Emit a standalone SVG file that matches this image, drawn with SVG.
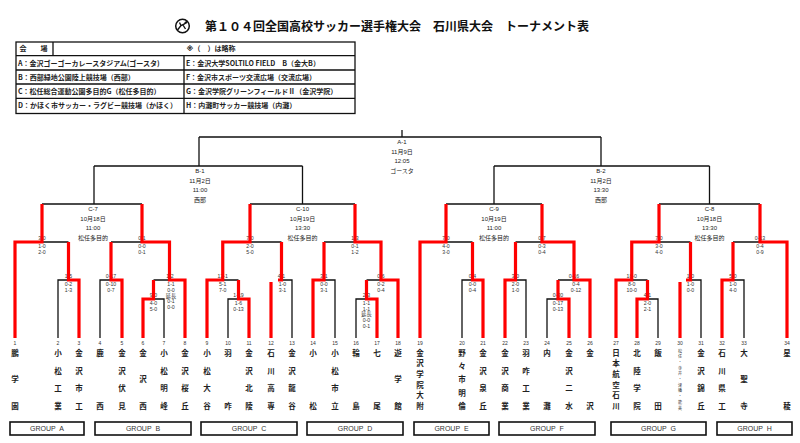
<svg xmlns="http://www.w3.org/2000/svg" width="800" height="443" viewBox="0 0 800 443">
<style>
text{font-family:"Liberation Sans","Noto Sans CJK JP",sans-serif;fill:#222}
.ttl{font-family:"Noto Sans CJK JP",sans-serif;font-size:12px;font-weight:bold;fill:#111}
.vn{font-family:"Noto Sans CJK JP",sans-serif;font-size:7px;font-weight:bold;fill:#222}
.lb{font-family:"Liberation Sans","Noto Sans CJK JP",sans-serif;font-size:6px;text-anchor:middle;fill:#222}
.sc{font-family:"Liberation Sans","Noto Sans CJK JP",sans-serif;font-size:5.2px;text-anchor:middle;fill:#333}
.no{font-family:"Liberation Sans",sans-serif;font-size:5px;text-anchor:middle;fill:#333}
.nm{font-family:"Noto Sans CJK JP",sans-serif;font-size:7.5px;font-weight:bold;text-anchor:middle;fill:#222}
.nm30{font-family:"Noto Sans CJK JP",sans-serif;font-size:4px;text-anchor:middle;fill:#333}
.gp{font-family:"Liberation Sans",sans-serif;font-size:7px;text-anchor:middle;fill:#333;word-spacing:2px}
.box{fill:#fff;stroke:#111;stroke-width:1.6}
.tb{fill:none;stroke:#111;stroke-width:1.3}
.k{fill:none;stroke:#111;stroke-width:1.3}
.r{fill:none;stroke:#f00;stroke-width:3.2;stroke-linejoin:miter}
</style>

<g id="title">
<circle cx="182.5" cy="26" r="6.8" fill="none" stroke="#111" stroke-width="1.5"/>
<path d="M177.5,30 L181,25.5 L184.5,24 L187.5,21 M181,25.5 L179.5,22.5 M183,25 L185.5,29" fill="none" stroke="#111" stroke-width="1.4"/>
<circle cx="185.8" cy="22.6" r="1.2" fill="#111"/>
<text class="ttl" x="205" y="31">第１０４回全国高校サッカー選手権大会　石川県大会　トーナメント表</text>
</g>

<g id="venue-table">
<rect class="tb" x="16" y="42" width="339" height="71.5" stroke-width="1.6"/>
<path class="tb" d="M16,55.7 H355 M16,70 H355 M16,84 H355 M16,98.3 H355 M53,42 V55.7 M184,55.7 V113.5"/>
<text class="vn" x="19.5" y="51.3">会　　場</text>
<text class="vn" x="211" y="51.3" text-anchor="middle"><tspan style="font-family:'DejaVu Sans','Noto Sans CJK JP',sans-serif" fill="#222">※</tspan>（　）は略称</text>
<text class="vn" x="18" y="65.5">A：金沢ゴーゴーカレースタジアム(ゴースタ)</text>
<text class="vn" x="186" y="65.5">E：金沢大学SOLTILO FIELD　B（金大B）</text>
<text class="vn" x="18" y="79.5">B：西部緑地公園陸上競技場（西部）</text>
<text class="vn" x="186" y="79.5">F：金沢市スポーツ交流広場（交流広場）</text>
<text class="vn" x="18" y="93.7">C：松任総合運動公園多目的G（松任多目的）</text>
<text class="vn" x="186" y="93.7">G：金沢学院グリーンフィールドⅡ（金沢学院）</text>
<text class="vn" x="18" y="108.3">D：かほく市サッカー・ラグビー競技場（かほく）</text>
<text class="vn" x="186" y="108.3">H：内灘町サッカー競技場（内灘）</text>
</g>

<g id="match-A1"><text class="lb" x="402" y="144">A-1</text><text class="lb" x="402" y="153.5">11月9日</text><text class="lb" x="402" y="163">12:05</text><text class="lb" x="402" y="173">ゴースタ</text></g>
<g id="match-B1"><text class="lb" x="200" y="173">B-1</text><text class="lb" x="200" y="182.5">11月2日</text><text class="lb" x="200" y="192">11:00</text><text class="lb" x="200" y="202">西部</text></g>
<g id="match-B2"><text class="lb" x="601" y="173">B-2</text><text class="lb" x="601" y="182.5">11月2日</text><text class="lb" x="601" y="192">13:30</text><text class="lb" x="601" y="202">西部</text></g>
<g id="match-C7"><text class="lb" x="93" y="210.5">C-7</text><text class="lb" x="93" y="220.5">10月18日</text><text class="lb" x="93" y="229.5">11:00</text><text class="lb" x="93" y="239.5">松任多目的</text></g>
<g id="match-C10"><text class="lb" x="302.5" y="210.5">C-10</text><text class="lb" x="302.5" y="220.5">10月19日</text><text class="lb" x="302.5" y="229.5">13:30</text><text class="lb" x="302.5" y="239.5">松任多目的</text></g>
<g id="match-C9"><text class="lb" x="494" y="210.5">C-9</text><text class="lb" x="494" y="220.5">10月19日</text><text class="lb" x="494" y="229.5">11:00</text><text class="lb" x="494" y="239.5">松任多目的</text></g>
<g id="match-C8"><text class="lb" x="709.5" y="210.5">C-8</text><text class="lb" x="709.5" y="220.5">10月18日</text><text class="lb" x="709.5" y="229.5">13:30</text><text class="lb" x="709.5" y="239.5">松任多目的</text></g>

<g id="scores">
<g id="m-1-23"><text class="sc" x="42" y="240">3-0</text><text class="sc" x="42" y="247.8">1-0</text><text class="sc" x="42" y="253.6">2-0</text></g>
<g id="m-2-3"><text class="sc" x="68.5" y="278">1-5</text><text class="sc" x="68.5" y="285.8">0-2</text><text class="sc" x="68.5" y="291.6">1-3</text></g>
<g id="m-45-678"><text class="sc" x="142" y="240">0-1</text><text class="sc" x="142" y="247.8">0-0</text><text class="sc" x="142" y="253.6">0-1</text></g>
<g id="m-4-5"><text class="sc" x="111" y="278">0-17</text><text class="sc" x="111" y="285.8">0-10</text><text class="sc" x="111" y="291.6">0-7</text></g>
<g id="m-67-8"><text class="sc" x="170" y="278">1-2</text><text class="sc" x="171" y="285.8">1-1</text><text class="sc" x="171" y="291.6">0-0</text><text class="sc" x="171" y="297.6">延長</text><text class="sc" x="171" y="303.4">0-1</text><text class="sc" x="171" y="309.2">0-0</text></g>
<g id="m-6-7"><text class="sc" x="153.5" y="297">9-0</text><text class="sc" x="153.5" y="304.8">4-0</text><text class="sc" x="153.5" y="310.6">5-0</text></g>

<g id="m-9-1011"><text class="sc" x="222.7" y="278">12-1</text><text class="sc" x="222.7" y="285.8">5-1</text><text class="sc" x="222.7" y="291.6">7-0</text></g>
<g id="m-10-11"><text class="sc" x="238.5" y="297">1-19</text><text class="sc" x="238.5" y="304.8">1-6</text><text class="sc" x="238.5" y="310.6">0-13</text></g>
<g id="m-12-13"><text class="sc" x="281.5" y="278">4-1</text><text class="sc" x="282.5" y="285.8">1-0</text><text class="sc" x="282.5" y="291.6">3-1</text></g>
<g id="m-9-13"><text class="sc" x="250" y="240">7-0</text><text class="sc" x="250" y="247.8">2-0</text><text class="sc" x="250" y="253.6">5-0</text></g>
<g id="m-14-15"><text class="sc" x="324" y="278">3-1</text><text class="sc" x="324" y="285.8">0-0</text><text class="sc" x="324" y="291.6">3-1</text></g>
<g id="m-16-17"><text class="sc" x="366.5" y="297">2-3</text><text class="sc" x="366.5" y="304.8">1-1</text><text class="sc" x="366.5" y="310.6">1-1</text><text class="sc" x="366.5" y="316.4">延長</text><text class="sc" x="366.5" y="322.2">0-0</text><text class="sc" x="366.5" y="328">0-1</text></g>
<g id="m-1617-18"><text class="sc" x="381" y="278">0-6</text><text class="sc" x="381" y="285.8">0-2</text><text class="sc" x="381" y="291.6">0-4</text></g>
<g id="m-14-18"><text class="sc" x="355" y="240">1-3</text><text class="sc" x="355" y="247.8">0-1</text><text class="sc" x="355" y="253.6">1-2</text></g>

<g id="m-19-2021"><text class="sc" x="446" y="240">7-0</text><text class="sc" x="446" y="247.8">4-0</text><text class="sc" x="446" y="253.6">3-0</text></g>
<g id="m-20-21"><text class="sc" x="472.5" y="278">0-4</text><text class="sc" x="472.5" y="285.8">0-0</text><text class="sc" x="472.5" y="291.6">0-4</text></g>
<g id="m-22-23"><text class="sc" x="515.5" y="278">3-0</text><text class="sc" x="515.5" y="285.8">2-0</text><text class="sc" x="515.5" y="291.6">1-0</text></g>
<g id="m-22-26"><text class="sc" x="542" y="240">0-7</text><text class="sc" x="542" y="247.8">0-3</text><text class="sc" x="542" y="253.6">0-4</text></g>
<g id="m-24-25"><text class="sc" x="558" y="297">0-30</text><text class="sc" x="558" y="304.8">0-17</text><text class="sc" x="558" y="310.6">0-13</text></g>
<g id="m-2425-26"><text class="sc" x="574" y="278">0-16</text><text class="sc" x="576" y="285.8">0-4</text><text class="sc" x="576" y="291.6">0-12</text></g>

<g id="m-27-2829"><text class="sc" x="631.7" y="278">18-0</text><text class="sc" x="631.7" y="285.8">8-0</text><text class="sc" x="631.7" y="291.6">10-0</text></g>
<g id="m-28-29"><text class="sc" x="647.5" y="297">4-1</text><text class="sc" x="647.5" y="304.8">2-0</text><text class="sc" x="647.5" y="310.6">2-1</text></g>
<g id="m-30-31"><text class="sc" x="690.5" y="278">1-0</text><text class="sc" x="690.5" y="285.8">1-0</text><text class="sc" x="690.5" y="291.6">0-0</text></g>
<g id="m-27-31"><text class="sc" x="659" y="240">7-0</text><text class="sc" x="659" y="247.8">3-0</text><text class="sc" x="659" y="253.6">4-0</text></g>
<g id="m-32-33"><text class="sc" x="733" y="278">5-0</text><text class="sc" x="733" y="285.8">1-0</text><text class="sc" x="733" y="291.6">4-0</text></g>
<g id="m-32-34"><text class="sc" x="760" y="240">0-13</text><text class="sc" x="760" y="247.8">0-4</text><text class="sc" x="760" y="253.6">0-9</text></g>
</g>

<g id="connectors">
<path class="k" d="M402,130 V137 M199,137 H601 M94,166 H302.5 M199,166 V137 M494,166 H709.5 M601,166 V137
M42,204 H142 M94,204 V166 M250,204 H355 M302.5,204 V166 M446,204 H542 M494,204 V166 M659,204 H760 M709.5,204 V166
M164,338 V299 H153.5 M153.5,280 H169.5 M58,338 V280 H68.5 M100,338 V280 H111 M42,242 H68.5 M111,242 H142
M228,338 V299 H238.5 M222.75,280 H238.5 M281.5,280 H292 V338 M250,242 H281.5 M324,280 H335 V338 M356,338 V299 H366.5 M366.5,280 H381 M324,242 H355
M462,338 V280 H472.5 M446,242 H472.5 M515.5,280 H526 V338 M547,338 V299 H558 M558,280 H574 M515.5,242 H542
M647.5,299 H658 V338 M631.75,280 H647.5 M690.5,280 H701 V338 M659,242 H690.5 M733,280 H744 V338 M733,242 H760"/>
<path class="r" d="M143,338 V299 H153.5 V280 M185,338 V280 H169.5 V242 H142 V204 M79,338 V280 H68.5 V242 M122,338 V280 H111 V242 M15,338 V242 H42 V204
M249,338 V299 H238.5 V280 M207,338 V280 H222.75 V242 H250 V204 M271,338 V282 M278,280 H281.5 V242 M313,338 V280 H324 V242 M377,338 V299 H366.5 V280 M398,338 V280 H381 V242 H355 V204
M483,338 V280 H472.5 V242 M420,338 V242 H446 V204 M505,338 V280 H515.5 V242 M569,338 V299 H558 V280 M590,338 V280 H574 V242 H542 V204
M637,338 V299 H647.5 V280 M616,338 V280 H631.75 V242 H659 V204 M680,338 V282 M686,280 H690.5 V242 M722,338 V280 H733 V242 M787,338 V242 H760 V204"/>
</g>

<g id="teams">
<g id="team-1"><text class="no" x="15" y="345">1</text><text class="nm"><tspan x="15" y="355.8">鵬</tspan><tspan x="15" y="382.3">学</tspan><tspan x="15" y="408.8">園</tspan></text></g>
<g id="team-2"><text class="no" x="58" y="345">2</text><text class="nm"><tspan x="58" y="355.8">小</tspan><tspan x="58" y="373.5">松</tspan><tspan x="58" y="391.1">工</tspan><tspan x="58" y="408.8">業</tspan></text></g>
<g id="team-3"><text class="no" x="79" y="345">3</text><text class="nm"><tspan x="79" y="355.8">金</tspan><tspan x="79" y="373.5">沢</tspan><tspan x="79" y="391.1">市</tspan><tspan x="79" y="408.8">工</tspan></text></g>
<g id="team-4"><text class="no" x="100" y="345">4</text><text class="nm"><tspan x="100" y="355.8">鹿</tspan><tspan x="100" y="408.8">西</tspan></text></g>
<g id="team-5"><text class="no" x="122" y="345">5</text><text class="nm"><tspan x="122" y="355.8">金</tspan><tspan x="122" y="373.5">沢</tspan><tspan x="122" y="391.1">伏</tspan><tspan x="122" y="408.8">見</tspan></text></g>
<g id="team-6"><text class="no" x="143" y="345">6</text><text class="nm"><tspan x="143" y="355.8">金</tspan><tspan x="143" y="382.3">沢</tspan><tspan x="143" y="408.8">西</tspan></text></g>
<g id="team-7"><text class="no" x="164" y="345">7</text><text class="nm"><tspan x="164" y="355.8">小</tspan><tspan x="164" y="373.5">松</tspan><tspan x="164" y="391.1">明</tspan><tspan x="164" y="408.8">峰</tspan></text></g>
<g id="team-8"><text class="no" x="185" y="345">8</text><text class="nm"><tspan x="185" y="355.8">金</tspan><tspan x="185" y="373.5">沢</tspan><tspan x="185" y="391.1">桜</tspan><tspan x="185" y="408.8">丘</tspan></text></g>
<g id="team-9"><text class="no" x="207" y="345">9</text><text class="nm"><tspan x="207" y="355.8">小</tspan><tspan x="207" y="373.5">松</tspan><tspan x="207" y="391.1">大</tspan><tspan x="207" y="408.8">谷</tspan></text></g>
<g id="team-10"><text class="no" x="228" y="345">10</text><text class="nm"><tspan x="228" y="355.8">羽</tspan><tspan x="228" y="408.8">咋</tspan></text></g>
<g id="team-11"><text class="no" x="249" y="345">11</text><text class="nm"><tspan x="249" y="355.8">金</tspan><tspan x="249" y="373.5">沢</tspan><tspan x="249" y="391.1">北</tspan><tspan x="249" y="408.8">陵</tspan></text></g>
<g id="team-12"><text class="no" x="271" y="345">12</text><text class="nm"><tspan x="271" y="355.8">石</tspan><tspan x="271" y="373.5">川</tspan><tspan x="271" y="391.1">高</tspan><tspan x="271" y="408.8">専</tspan></text></g>
<g id="team-13"><text class="no" x="292" y="345">13</text><text class="nm"><tspan x="292" y="355.8">金</tspan><tspan x="292" y="373.5">沢</tspan><tspan x="292" y="391.1">龍</tspan><tspan x="292" y="408.8">谷</tspan></text></g>
<g id="team-14"><text class="no" x="313" y="345">14</text><text class="nm"><tspan x="313" y="355.8">小</tspan><tspan x="313" y="408.8">松</tspan></text></g>
<g id="team-15"><text class="no" x="335" y="345">15</text><text class="nm"><tspan x="335" y="355.8">小</tspan><tspan x="335" y="373.5">松</tspan><tspan x="335" y="391.1">市</tspan><tspan x="335" y="408.8">立</tspan></text></g>
<g id="team-16"><text class="no" x="356" y="345">16</text><text class="nm"><tspan x="356" y="355.8">輪</tspan><tspan x="356" y="408.8">島</tspan></text></g>
<g id="team-17"><text class="no" x="377" y="345">17</text><text class="nm"><tspan x="377" y="355.8">七</tspan><tspan x="377" y="408.8">尾</tspan></text></g>
<g id="team-18"><text class="no" x="398" y="345">18</text><text class="nm"><tspan x="398" y="355.8">遊</tspan><tspan x="398" y="382.3">学</tspan><tspan x="398" y="408.8">館</tspan></text></g>
<g id="team-19"><text class="no" x="420" y="345">19</text><text class="nm"><tspan x="420" y="355.8">金</tspan><tspan x="420" y="366.4">沢</tspan><tspan x="420" y="377">学</tspan><tspan x="420" y="387.6">院</tspan><tspan x="420" y="398.2">大</tspan><tspan x="420" y="408.8">附</tspan></text></g>
<g id="team-20"><text class="no" x="462" y="345">20</text><text class="nm"><tspan x="462" y="355.8">野</tspan><tspan x="462" y="369">々</tspan><tspan x="462" y="382.3">市</tspan><tspan x="462" y="395.5">明</tspan><tspan x="462" y="408.8">倫</tspan></text></g>
<g id="team-21"><text class="no" x="483" y="345">21</text><text class="nm"><tspan x="483" y="355.8">金</tspan><tspan x="483" y="373.5">沢</tspan><tspan x="483" y="391.1">泉</tspan><tspan x="483" y="408.8">丘</tspan></text></g>
<g id="team-22"><text class="no" x="505" y="345">22</text><text class="nm"><tspan x="505" y="355.8">金</tspan><tspan x="505" y="373.5">沢</tspan><tspan x="505" y="391.1">商</tspan><tspan x="505" y="408.8">業</tspan></text></g>
<g id="team-23"><text class="no" x="526" y="345">23</text><text class="nm"><tspan x="526" y="355.8">羽</tspan><tspan x="526" y="373.5">咋</tspan><tspan x="526" y="391.1">工</tspan><tspan x="526" y="408.8">業</tspan></text></g>
<g id="team-24"><text class="no" x="547" y="345">24</text><text class="nm"><tspan x="547" y="355.8">内</tspan><tspan x="547" y="408.8">灘</tspan></text></g>
<g id="team-25"><text class="no" x="569" y="345">25</text><text class="nm"><tspan x="569" y="355.8">金</tspan><tspan x="569" y="373.5">沢</tspan><tspan x="569" y="391.1">二</tspan><tspan x="569" y="408.8">水</tspan></text></g>
<g id="team-26"><text class="no" x="590" y="345">26</text><text class="nm"><tspan x="590" y="355.8">金</tspan><tspan x="590" y="408.8">沢</tspan></text></g>
<g id="team-27"><text class="no" x="616" y="345">27</text><text class="nm"><tspan x="616" y="355.8">日</tspan><tspan x="616" y="366.4">本</tspan><tspan x="616" y="377">航</tspan><tspan x="616" y="387.6">空</tspan><tspan x="616" y="398.2">石</tspan><tspan x="616" y="408.8">川</tspan></text></g>
<g id="team-28"><text class="no" x="637" y="345">28</text><text class="nm"><tspan x="637" y="355.8">北</tspan><tspan x="637" y="373.5">陸</tspan><tspan x="637" y="391.1">学</tspan><tspan x="637" y="408.8">院</tspan></text></g>
<g id="team-29"><text class="no" x="658" y="345">29</text><text class="nm"><tspan x="658" y="355.8">飯</tspan><tspan x="658" y="408.8">田</tspan></text></g>
<g id="team-30"><text class="no" x="680" y="345">30</text><text class="nm30"><tspan x="680" y="352.5">松</tspan><tspan x="680" y="358.2">任</tspan><tspan x="680" y="363.9">・</tspan><tspan x="680" y="369.6">寺</tspan><tspan x="680" y="375.3">井</tspan><tspan x="680" y="381">・</tspan><tspan x="680" y="386.7">津</tspan><tspan x="680" y="392.4">幡</tspan><tspan x="680" y="398.1">・</tspan><tspan x="680" y="403.8">能</tspan><tspan x="680" y="409.5">美</tspan></text></g>
<g id="team-31"><text class="no" x="701" y="345">31</text><text class="nm"><tspan x="701" y="355.8">金</tspan><tspan x="701" y="373.5">沢</tspan><tspan x="701" y="391.1">錦</tspan><tspan x="701" y="408.8">丘</tspan></text></g>
<g id="team-32"><text class="no" x="722" y="345">32</text><text class="nm"><tspan x="722" y="355.8">石</tspan><tspan x="722" y="373.5">川</tspan><tspan x="722" y="391.1">県</tspan><tspan x="722" y="408.8">工</tspan></text></g>
<g id="team-33"><text class="no" x="744" y="345">33</text><text class="nm"><tspan x="744" y="355.8">大</tspan><tspan x="744" y="382.3">聖</tspan><tspan x="744" y="408.8">寺</tspan></text></g>
<g id="team-34"><text class="no" x="787" y="345">34</text><text class="nm"><tspan x="787" y="355.8">星</tspan><tspan x="787" y="408.8">稜</tspan></text></g>
</g>

<g id="groups">
<g id="group-A"><rect class="box" x="10" y="422" width="74" height="13"/><text class="gp" x="47" y="431">GROUP A</text></g>
<g id="group-B"><rect class="box" x="95" y="422" width="96" height="13"/><text class="gp" x="143" y="431">GROUP B</text></g>
<g id="group-C"><rect class="box" x="201" y="422" width="96" height="13"/><text class="gp" x="249" y="431">GROUP C</text></g>
<g id="group-D"><rect class="box" x="307" y="422" width="96" height="13"/><text class="gp" x="355" y="431">GROUP D</text></g>
<g id="group-E"><rect class="box" x="414" y="422" width="75" height="13"/><text class="gp" x="451.5" y="431">GROUP E</text></g>
<g id="group-F"><rect class="box" x="499" y="422" width="96" height="13"/><text class="gp" x="547" y="431">GROUP F</text></g>
<g id="group-G"><rect class="box" x="611" y="422" width="95" height="13"/><text class="gp" x="658.5" y="431">GROUP G</text></g>
<g id="group-H"><rect class="box" x="717" y="422" width="75" height="13"/><text class="gp" x="754.5" y="431">GROUP H</text></g>
</g>
</svg>
